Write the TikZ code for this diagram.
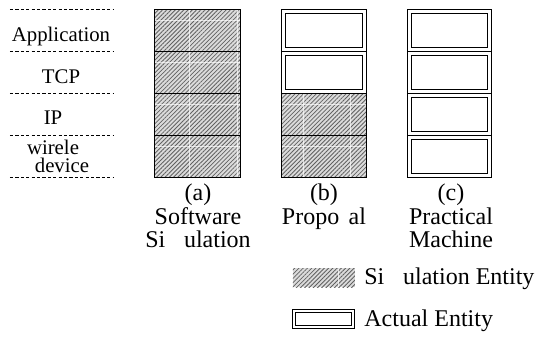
\documentclass[tikz,border=0pt]{standalone}
\usepackage{fontspec}
\setmainfont{Liberation Serif}
\usetikzlibrary{patterns.meta}
\begin{document}
\begin{tikzpicture}[x=0.5pt,y=-0.5pt,
  layerline/.style={black,line width=0.45pt,dash pattern=on 1.6pt off 1.1pt},
  hatchbg/.style={fill=black!14},
  hatch/.style={pattern={Lines[angle=45,distance=1.5pt,line width=0.4pt]},pattern color=black!62},
  seam/.style={white,line width=0.45pt,opacity=0.7},
  frame/.style={draw=black,line width=0.5pt},
  inner/.style={draw=black,line width=0.5pt},
  small/.style={font=\fontsize{10.4}{12}\selectfont,inner sep=0pt,anchor=base},
  big/.style={font=\fontsize{12}{12}\selectfont,inner sep=0pt,anchor=base},
  legtext/.style={font=\fontsize{12}{12}\selectfont,inner sep=0pt,anchor=base west}]
\useasboundingbox (0,0) rectangle (538,338);

% protocol layers on the left
\foreach \y in {9,51,93,135,177} \draw[layerline] (10,\y) -- (113,\y);
\node[small] (lapp) at (61,41) {Application};
\node[small] (ltcp) at (61,83) {TCP};
\node[small] (lip) at (53,124) {IP};
\node[small] (lwl) at (53,154) {wirele};
\node[small] (ldev) at (62,172) {device};

% (a) software simulation: all layers simulated
\fill[hatchbg] (155,9) rectangle (241,177);
\fill[hatch] (155,9) rectangle (241,177);
\foreach \x in {189,237} \draw[seam] (\x,9.5) -- (\x,176.5);
\foreach \y in {20,62,104,146} \draw[seam] (155.5,\y) -- (240.5,\y);
\draw[frame] (155,9) rectangle (241,177);
\foreach \y in {51,93,135} \draw[frame] (155,\y) -- (241,\y);

% (b) proposal: upper layers actual, lower layers simulated
\fill[hatchbg] (282,93) rectangle (367,177);
\fill[hatch] (282,93) rectangle (367,177);
\foreach \x in {303,350} \draw[seam] (\x,93.5) -- (\x,176.5);
\foreach \y in {104,146} \draw[seam] (282.5,\y) -- (366.5,\y);
\draw[frame] (282,9) rectangle (367,177);
\foreach \y in {51,93,135} \draw[frame] (282,\y) -- (367,\y);
\foreach \y in {9,51} \draw[inner] (286,\y+4) rectangle (363,\y+38);

% (c) practical machine: all layers actual
\draw[frame] (408,9) rectangle (492,177);
\foreach \y in {51,93,135} \draw[frame] (408,\y) -- (492,\y);
\foreach \y in {9,51,93,135} \draw[inner] (412,\y+4) rectangle (488,\y+38);

% captions
\node[big] (ca1) at (198,200) {(a)};
\node[big] (ca2) at (198,224) {Software};
\node[big] (ca3) at (198,247) {Si\hspace{0.78em}ulation};
\node[big] (cb1) at (324,200) {(b)};
\node[big] (cb2) at (324,224) {Propo\hspace{0.39em}al};
\node[big] (cc1) at (451,200) {(c)};
\node[big] (cc2) at (451,224) {Practical};
\node[big] (cc3) at (451,247) {Machine};

% legend
\fill[hatchbg] (293,268) rectangle (355,287);
\fill[hatch] (293,268) rectangle (355,287);
\draw[seam] (338,268.5) -- (338,286.5);
\node[legtext] (lsim) at (364,285) {Si\hspace{0.78em}ulation Entity};
\draw[frame] (293,309) rectangle (355,328);
\draw[inner] (296,312) rectangle (352,325);
\node[legtext] (lact) at (364,327) {Actual Entity};
\end{tikzpicture}
\end{document}
